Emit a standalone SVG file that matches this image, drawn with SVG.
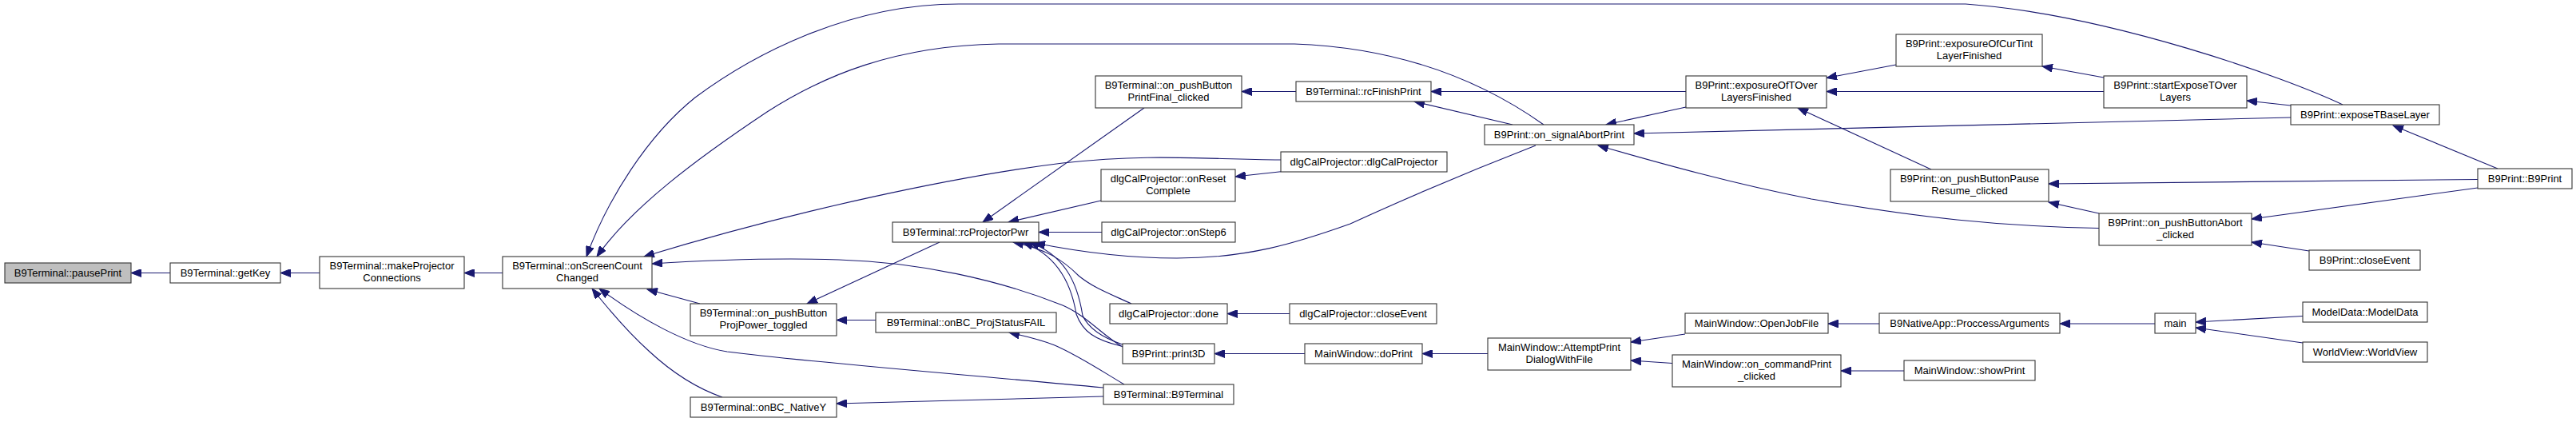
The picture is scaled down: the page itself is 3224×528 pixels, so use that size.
<svg xmlns="http://www.w3.org/2000/svg" width="3224" height="528" viewBox="0 0 3224 528">
<style>
.n rect{fill:#fff;stroke:#333;stroke-width:1.1}
.n.cur rect{fill:#bfbfbf}
.n text{font-family:"Liberation Sans",Arial,sans-serif;font-size:13px;fill:#000;text-anchor:middle}
.e path{fill:none;stroke:#191970;stroke-width:1.1;marker-end:url(#ah)}
</style>
<defs>
<marker id="ah" markerUnits="userSpaceOnUse" markerWidth="14" markerHeight="10" refX="13" refY="5" orient="auto">
<path d="M0,0 L13,5 L0,10 z" fill="#191970" stroke="#191970" stroke-width="1"/>
</marker>
</defs>
<rect width="3224" height="528" fill="#fff"/>
<g id="edges" class="e">
<path d="M213,341.5 L164,341.5"/>
<path d="M400,341.5 L351,341.5"/>
<path d="M629,341.5 L581,341.5"/>
<path d="M2932,131 C2860,97 2640,18 2460,5 L1200,5 C1060,5 940,70 870,122 C810,170 760,250 734,321"/>
<path d="M1932,156 C1860,105 1760,60 1620,55 L1250,55 C1120,57 1030,95 960,140 C870,200 790,260 747,321"/>
<path d="M1603,200 C1500,199 1440,192 1330,204 C1200,220 1000,262 806,321"/>
<path d="M1405,434 C1380,420 1360,395 1330,382 C1250,350 1150,328 1050,325 C960,322 880,326 816,330"/>
<path d="M876,380 L810,362"/>
<path d="M1381,485 C1200,468 1000,452 910,440 C860,432 800,398 750,361"/>
<path d="M904,497 C870,485 840,465 813,440 C785,415 760,385 741,361"/>
<path d="M1176,303 L1010,380"/>
<path d="M1096,400.5 L1047,400.5"/>
<path d="M1381,496 L1047,505"/>
<path d="M1407,481 C1380,465 1350,445 1320,432 C1300,424 1280,420 1263,416"/>
<path d="M1432,135 L1230,278"/>
<path d="M1378,251 L1262,278"/>
<path d="M1379,290.5 L1300,290.5"/>
<path d="M1922,182 C1850,210 1760,248 1690,280 C1620,305 1560,323 1473,323 C1400,323 1340,313 1295,304"/>
<path d="M1416,380 C1390,368 1368,360 1350,345 C1330,325 1310,312 1268,303"/>
<path d="M1403,433 C1370,425 1355,415 1347,393 C1340,350 1320,318 1280,303"/>
<path d="M1405,431 C1378,422 1362,410 1355,395 C1348,350 1330,318 1288,303"/>
<path d="M1622,114.5 L1554,114.5"/>
<path d="M2110,114.5 L1791,114.5"/>
<path d="M1893,156 L1770,127"/>
<path d="M2110,134 L2010,156"/>
<path d="M2867,147 L2045,167"/>
<path d="M2627,285.5 C2500,283 2400,272 2267,249 C2170,230 2080,205 2000,182"/>
<path d="M2373,81 L2286,97.5"/>
<path d="M2633,114.5 L2286,114.5"/>
<path d="M2417,212 L2250,135"/>
<path d="M2633,97 L2556,83"/>
<path d="M2867,132 L2812,126"/>
<path d="M3126,211 L2995,157"/>
<path d="M3101,224.5 L2564,230"/>
<path d="M2627,267 L2564,253"/>
<path d="M3101,235 L2818,274"/>
<path d="M2890,314 L2818,303"/>
<path d="M1614,392.5 L1536,392.5"/>
<path d="M1603,214.8 L1546,221"/>
<path d="M1633,442.5 L1520,442.5"/>
<path d="M1862,442.5 L1780,442.5"/>
<path d="M2109,418 L2041,428"/>
<path d="M2093,454.5 L2041,451"/>
<path d="M2352,405 L2288,405"/>
<path d="M2383,464 L2304,464"/>
<path d="M2697,405 L2578,405"/>
<path d="M2882,395.5 L2748,403"/>
<path d="M2882,429 L2748,410"/>
</g>
<g id="n1" class="n cur"><rect x="6" y="329" width="158" height="25"/><text x="85" y="346">B9Terminal::pausePrint</text></g>
<g id="n2" class="n"><rect x="213" y="329" width="138" height="25"/><text x="282" y="346">B9Terminal::getKey</text></g>
<g id="n3" class="n"><rect x="400" y="321" width="181" height="40"/><text x="490.5" y="337">B9Terminal::makeProjector</text><text x="490.5" y="352">Connections</text></g>
<g id="n4" class="n"><rect x="629" y="321" width="187" height="40"/><text x="722.5" y="337">B9Terminal::onScreenCount</text><text x="722.5" y="352">Changed</text></g>
<g id="n5" class="n"><rect x="864" y="380" width="183" height="40"/><text x="955.5" y="396">B9Terminal::on_pushButton</text><text x="955.5" y="411">ProjPower_toggled</text></g>
<g id="n6" class="n"><rect x="864" y="497" width="183" height="25"/><text x="955.5" y="514">B9Terminal::onBC_NativeY</text></g>
<g id="n7" class="n"><rect x="1117" y="278" width="183" height="25"/><text x="1208.5" y="295">B9Terminal::rcProjectorPwr</text></g>
<g id="n8" class="n"><rect x="1096" y="391" width="226" height="25"/><text x="1209" y="408">B9Terminal::onBC_ProjStatusFAIL</text></g>
<g id="n9" class="n"><rect x="1371" y="95" width="183" height="40"/><text x="1462.5" y="111">B9Terminal::on_pushButton</text><text x="1462.5" y="126">PrintFinal_clicked</text></g>
<g id="n10" class="n"><rect x="1378" y="212" width="168" height="40"/><text x="1462" y="228">dlgCalProjector::onReset</text><text x="1462" y="243">Complete</text></g>
<g id="n11" class="n"><rect x="1379" y="278" width="167" height="25"/><text x="1462.5" y="295">dlgCalProjector::onStep6</text></g>
<g id="n12" class="n"><rect x="1389" y="380" width="147" height="25"/><text x="1462.5" y="397">dlgCalProjector::done</text></g>
<g id="n13" class="n"><rect x="1405" y="430" width="115" height="25"/><text x="1462.5" y="447">B9Print::print3D</text></g>
<g id="n14" class="n"><rect x="1381" y="481" width="163" height="25"/><text x="1462.5" y="498">B9Terminal::B9Terminal</text></g>
<g id="n15" class="n"><rect x="1622" y="102" width="169" height="25"/><text x="1706.5" y="119">B9Terminal::rcFinishPrint</text></g>
<g id="n16" class="n"><rect x="1603" y="190" width="208" height="25"/><text x="1707" y="207">dlgCalProjector::dlgCalProjector</text></g>
<g id="n17" class="n"><rect x="1614" y="380" width="184" height="25"/><text x="1706" y="397">dlgCalProjector::closeEvent</text></g>
<g id="n18" class="n"><rect x="1633" y="430" width="147" height="25"/><text x="1706.5" y="447">MainWindow::doPrint</text></g>
<g id="n19" class="n"><rect x="1858" y="156" width="187" height="25"/><text x="1951.5" y="173">B9Print::on_signalAbortPrint</text></g>
<g id="n20" class="n"><rect x="1862" y="423" width="179" height="40"/><text x="1951.5" y="439">MainWindow::AttemptPrint</text><text x="1951.5" y="454">DialogWithFile</text></g>
<g id="n21" class="n"><rect x="2110" y="95" width="176" height="40"/><text x="2198" y="111">B9Print::exposureOfTOver</text><text x="2198" y="126">LayersFinished</text></g>
<g id="n22" class="n"><rect x="2109" y="392" width="179" height="25"/><text x="2198.5" y="409">MainWindow::OpenJobFile</text></g>
<g id="n23" class="n"><rect x="2093" y="444" width="211" height="40"/><text x="2198.5" y="460">MainWindow::on_commandPrint</text><text x="2198.5" y="475">_clicked</text></g>
<g id="n24" class="n"><rect x="2373" y="43" width="183" height="40"/><text x="2464.5" y="59">B9Print::exposureOfCurTint</text><text x="2464.5" y="74">LayerFinished</text></g>
<g id="n25" class="n"><rect x="2366" y="212" width="198" height="40"/><text x="2465" y="228">B9Print::on_pushButtonPause</text><text x="2465" y="243">Resume_clicked</text></g>
<g id="n26" class="n"><rect x="2352" y="392" width="226" height="25"/><text x="2465" y="409">B9NativeApp::ProccessArguments</text></g>
<g id="n27" class="n"><rect x="2383" y="451" width="164" height="25"/><text x="2465" y="468">MainWindow::showPrint</text></g>
<g id="n28" class="n"><rect x="2633" y="95" width="179" height="40"/><text x="2722.5" y="111">B9Print::startExposeTOver</text><text x="2722.5" y="126">Layers</text></g>
<g id="n29" class="n"><rect x="2627" y="267" width="191" height="40"/><text x="2722.5" y="283">B9Print::on_pushButtonAbort</text><text x="2722.5" y="298">_clicked</text></g>
<g id="n30" class="n"><rect x="2697" y="392" width="51" height="25"/><text x="2722.5" y="409">main</text></g>
<g id="n31" class="n"><rect x="2867" y="131" width="186" height="25"/><text x="2960" y="148">B9Print::exposeTBaseLayer</text></g>
<g id="n32" class="n"><rect x="3101" y="211" width="118" height="25"/><text x="3160" y="228">B9Print::B9Print</text></g>
<g id="n33" class="n"><rect x="2890" y="313" width="139" height="25"/><text x="2959.5" y="330">B9Print::closeEvent</text></g>
<g id="n34" class="n"><rect x="2882" y="378" width="156" height="25"/><text x="2960" y="395">ModelData::ModelData</text></g>
<g id="n35" class="n"><rect x="2882" y="428" width="156" height="25"/><text x="2960" y="445">WorldView::WorldView</text></g>
</svg>
